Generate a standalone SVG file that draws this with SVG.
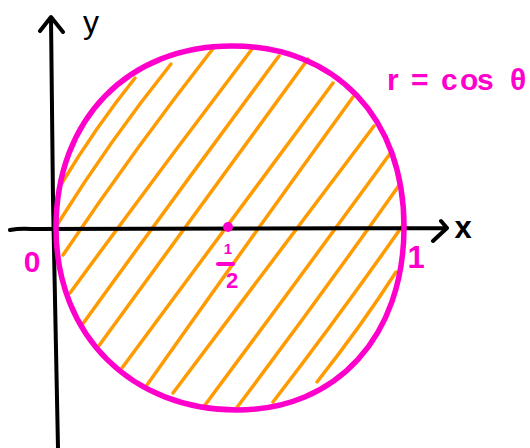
<svg xmlns="http://www.w3.org/2000/svg" width="530" height="448" viewBox="0 0 530 448">
<style>
.hatch{stroke:#FF9A00;stroke-width:3.5;fill:none;stroke-linecap:round}
.axis{stroke:#000;stroke-width:4;fill:none;stroke-linecap:round;stroke-linejoin:round}
.curve{stroke:#FF00CC;stroke-width:5.5;fill:none;stroke-linecap:round}
.mag{fill:#FF00CC;font-family:"Liberation Sans","DejaVu Sans",sans-serif;font-weight:bold}
.blk{fill:#000;font-family:"Liberation Sans","DejaVu Sans",sans-serif}
</style>
<rect width="530" height="448" fill="#fff"/>
<g id="hatching">
<path class="hatch" d="M62,183 Q95,128 135,78"/>
<path class="hatch" d="M57,225 Q110,140 171,64"/>
<path class="hatch" d="M63,255 Q135,148 215,46"/>
<path class="hatch" d="M70,293 Q160,170 252,49"/>
<path class="hatch" d="M82,325 Q178,192 279,56"/>
<path class="hatch" d="M98,347 Q205,200 308,59"/>
<path class="hatch" d="M122,368 Q225,228 333,83"/>
<path class="hatch" d="M147,385 Q248,242 353,97"/>
<path class="hatch" d="M173,393 Q272,262 374,126"/>
<path class="hatch" d="M205,405 Q298,280 392,151"/>
<path class="hatch" d="M235,410 Q318,300 400,184"/>
<path class="hatch" d="M273,402 Q340,315 403,225"/>
<path class="hatch" d="M317,382 Q362,325 396,272"/>
</g>
<g id="axes">
<path id="x-axis" class="axis" d="M10,230 Q20,228 32,229 L447,228 M441,221 L447,228 L433,241"/>
<path id="y-axis" class="axis" d="M51,18 L53,200 L58,448 M40,31 L51,17 L63,32"/>
</g>
<g id="circle">
<path class="curve" d="M56,228 C56,119 128,46 232,46 C336,46 404,118 404,227 C404,336 337,410 237,410 C133,410 56,337 56,228 Z"/>
</g>
<g id="center-point">
<circle cx="228" cy="227" r="5" fill="#FF00CC"/>
</g>
<g id="labels">
<text class="blk" x="91" y="33" font-size="32" text-anchor="middle">y</text>
<text class="blk" x="463" y="238" font-size="31" font-weight="bold" text-anchor="middle">x</text>
<text class="mag" x="32" y="272" font-size="30" text-anchor="middle">0</text>
<text class="mag" x="416" y="268" font-size="31" text-anchor="middle">1</text>
<text class="mag" x="228" y="254" font-size="15" text-anchor="middle">1</text>
<line x1="218" y1="264" x2="233" y2="264" stroke="#FF00CC" stroke-width="4" stroke-linecap="round"/>
<text class="mag" x="232" y="288" font-size="22" text-anchor="middle">2</text>
<text class="mag" x="387 399 411 428 441 460 477 493 510" y="90" font-size="30">r = cos θ</text>
</g>
</svg>
